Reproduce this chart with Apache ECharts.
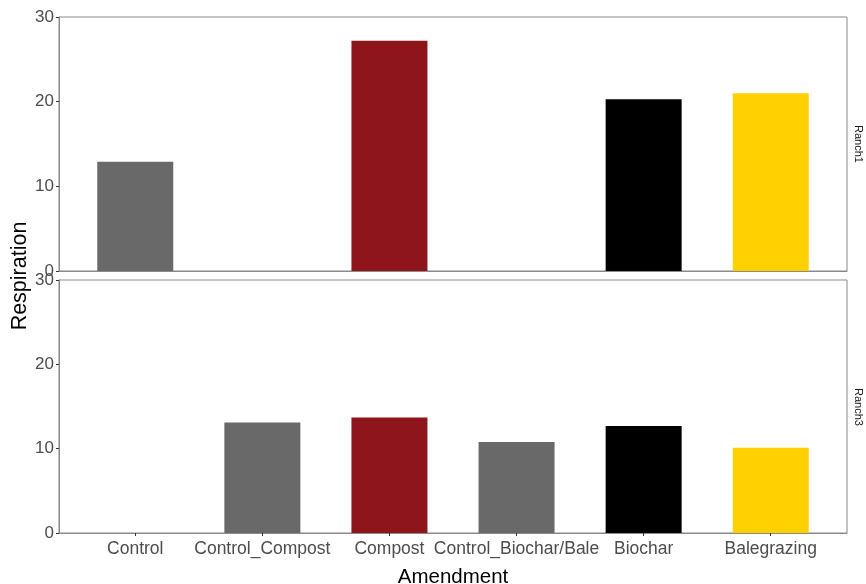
<!DOCTYPE html>
<html><head><meta charset="utf-8">
<script src="https://cdn.jsdelivr.net/npm/echarts@6/dist/echarts.min.js"></script>
<style>html,body{margin:0;padding:0;background:#fff}#c{width:866px;height:584px}</style>
</head><body><div id="c"></div>
<script>
const categories = ["Control","Control_Compost","Compost","Control_Biochar/Bale","Biochar","Balegrazing"];
const ranch1Values = [12.9, null, 27.2, null, 20.3, 21.0];
const ranch3Values = [null, 13.1, 13.7, 10.8, 12.7, 10.1];
const barColors = ["#696969","#696969","#8E151B","#696969","#000000","#FFD100"];
const panelNames = ["Ranch1","Ranch3"];
const yTicks = [0,10,20,30];

const chart = echarts.init(document.getElementById('c'));
const font = 'Liberation Sans, Arial, sans-serif';
const grids = [
  {left:59, top:17, width:788, height:254, show:true, borderColor:'#8a8a8a', borderWidth:1, backgroundColor:'#fff', containLabel:false, outerBoundsMode:'none'},
  {left:59, top:280, width:788, height:253, show:true, borderColor:'#8a8a8a', borderWidth:1, backgroundColor:'#fff', containLabel:false, outerBoundsMode:'none'}
];
const idx = categories.map((_, i) => i);
function xAxis(g, showLabels){
  return {type:'value', gridIndex:g, min:-0.6, max:5.6,
    axisLine:{show:true, onZero:false, lineStyle:{color:'#8a8a8a'}},
    axisTick:{show:showLabels, customValues:idx, length:3, lineStyle:{color:'#333'}},
    axisLabel:{show:showLabels, customValues:idx, formatter:v=>categories[Math.round(v)], color:'#4d4d4d', fontSize:17.5, fontFamily:font, margin:7},
    splitLine:{show:false},
    name: showLabels ? 'Amendment' : '', nameLocation:'middle', nameGap:34,
    nameTextStyle:{fontSize:20.5, color:'#000', fontFamily:font}};
}
function yAxis(g){
  return {type:'value', gridIndex:g, min:0, max:30, interval:10,
    axisLine:{show:true, onZero:false, lineStyle:{color:'#8a8a8a'}},
    axisTick:{show:true, length:3, lineStyle:{color:'#333'}},
    axisLabel:{color:'#4d4d4d', fontSize:17, fontFamily:font, margin:5},
    splitLine:{show:false}};
}
function seriesFor(vals, g){
  return {type:'bar', xAxisIndex:g, yAxisIndex:g, barWidth:76, silent:true,
    data: vals.map((v,i)=> v==null ? null : {value:[i, v], itemStyle:{color:barColors[i]}})};
}
chart.setOption({
  animation:false,
  grid:grids,
  xAxis:[xAxis(0,false), xAxis(1,true)],
  yAxis:[yAxis(0), yAxis(1)],
  series:[seriesFor(ranch1Values,0), seriesFor(ranch3Values,1)],
  graphic:[
    {type:'text', rotation:Math.PI/2, position:[20,276], style:{text:'Respiration', font:'21.5px '+font, fill:'#000', textAlign:'center', textVerticalAlign:'middle'}},
    {type:'text', rotation:-Math.PI/2, position:[858,144], style:{text:panelNames[0], font:'11px '+font, fill:'#1a1a1a', textAlign:'center', textVerticalAlign:'middle'}},
    {type:'text', rotation:-Math.PI/2, position:[858,407], style:{text:panelNames[1], font:'11px '+font, fill:'#1a1a1a', textAlign:'center', textVerticalAlign:'middle'}}
  ]
});
</script></body></html>
